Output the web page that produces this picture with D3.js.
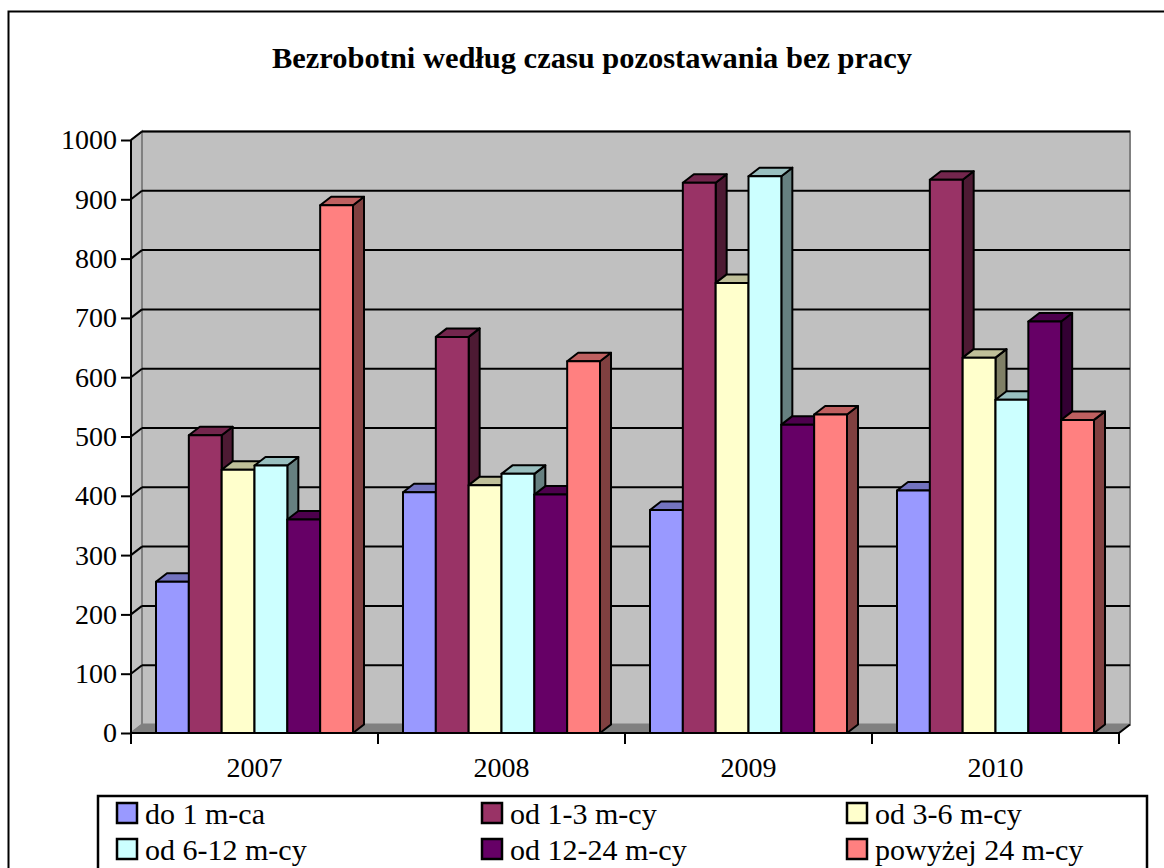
<!DOCTYPE html>
<html>
<head>
<meta charset="utf-8">
<script src="https://cdn.jsdelivr.net/npm/d3@7"></script>
<style>
  html, body { margin: 0; padding: 0; background: #ffffff; }
  svg { display: block; }
  text { font-family: "Liberation Serif", "Times New Roman", serif; }
</style>
</head>
<body>
<script>
// ---- data ----
const title = "Bezrobotni według czasu pozostawania bez pracy";
const years = ["2007", "2008", "2009", "2010"];
const seriesNames = ["do 1 m-ca", "od 1-3 m-cy", "od 3-6 m-cy", "od 6-12 m-cy", "od 12-24 m-cy", "powyżej 24 m-cy"];
const do1 = [255, 406, 376, 409];
const od13 = [502, 668, 928, 933];
const od36 = [444, 418, 759, 633];
const od612 = [451, 437, 939, 562];
const od1224 = [360, 402, 520, 694];
const pow24 = [890, 627, 537, 528];
const seriesValues = [do1, od13, od36, od612, od1224, pow24];
const yTicks = [0, 100, 200, 300, 400, 500, 600, 700, 800, 900, 1000];
const colors = ["#9999FF", "#993366", "#FFFFCC", "#CCFFFF", "#660066", "#FF8080"];

// ---- layout ----
const W = 1164, H = 868;
const svg = d3.select("body").append("svg").attr("width", W).attr("height", H);

// outer border
svg.append("rect").attr("x", 8.5).attr("y", 11.5).attr("width", 1200).attr("height", 1000)
  .attr("fill", "#fff").attr("stroke", "#000").attr("stroke-width", 2);

// title
svg.append("text").attr("x", 592).attr("y", 68).attr("text-anchor", "middle")
  .attr("font-size", 30).attr("font-weight", "bold")
  .attr("textLength", 640).attr("lengthAdjust", "spacingAndGlyphs")
  .text(title);

const X0 = 131, X1 = 1119, Y0 = 733, Y1 = 140;
const DX = 11, DY = -8.5;

const y = d3.scaleLinear().domain([0, 1000]).range([Y0, Y1]);
const x0 = d3.scaleBand().domain(years).range([X0, X1]).padding(0);
const x1 = d3.scaleBand().domain(seriesNames).range([25, 222]).padding(0);

// walls
const g = svg.append("g");
g.append("polygon")
  .attr("points", [[X0 + DX, Y0 + DY], [X1 + DX, Y0 + DY], [X1 + DX, Y1 + DY], [X0 + DX, Y1 + DY]].join(" "))
  .attr("fill", "#C0C0C0").attr("stroke", "#808080").attr("stroke-width", 2);
g.append("polygon")
  .attr("points", [[X0, Y0], [X0 + DX, Y0 + DY], [X0 + DX, Y1 + DY], [X0, Y1]].join(" "))
  .attr("fill", "#C0C0C0").attr("stroke", "#808080").attr("stroke-width", 2);
// floor
g.append("polygon")
  .attr("points", [[X0, Y0], [X1, Y0], [X1 + DX, Y0 + DY], [X0 + DX, Y0 + DY]].join(" "))
  .attr("fill", "#808080").attr("stroke", "#808080").attr("stroke-width", 1);

// gridlines
yTicks.filter(t => t > 0).forEach(t => {
  g.append("line").attr("x1", X0 + DX).attr("x2", X1 + DX)
    .attr("y1", y(t) + DY).attr("y2", y(t) + DY)
    .attr("stroke", "#000").attr("stroke-width", 2);
  g.append("line").attr("x1", X0).attr("x2", X0 + DX)
    .attr("y1", y(t)).attr("y2", y(t) + DY)
    .attr("stroke", "#000").attr("stroke-width", 2);
});

// bars
function shade(c, k) {
  const r = d3.rgb(c);
  return d3.rgb(r.r * k, r.g * k, r.b * k).formatHex();
}
const bars = svg.append("g");
years.forEach((yr, i) => {
  seriesNames.forEach((s, j) => {
    const v = seriesValues[j][i];
    const xl = x0(yr) + x1(s), w = x1.bandwidth();
    const yt = y(v), yb = y(0);
    const bg = bars.append("g").attr("stroke", "#000").attr("stroke-width", 2).attr("stroke-linejoin", "round");
    bg.append("polygon")
      .attr("points", [[xl + w, yt], [xl + w + DX, yt + DY], [xl + w + DX, yb + DY], [xl + w, yb]].join(" "))
      .attr("fill", shade(colors[j], 0.5));
    bg.append("polygon")
      .attr("points", [[xl, yt], [xl + DX, yt + DY], [xl + w + DX, yt + DY], [xl + w, yt]].join(" "))
      .attr("fill", shade(colors[j], 0.75));
    bg.append("rect").attr("x", xl).attr("y", yt).attr("width", w).attr("height", yb - yt)
      .attr("fill", colors[j]);
  });
});

// axes
const yAxis = svg.append("g").attr("transform", `translate(${X0},0)`)
  .call(d3.axisLeft(y).tickValues(yTicks).tickSize(10).tickPadding(4).tickFormat(d3.format("d")));
yAxis.select(".domain").attr("stroke", "#000").attr("stroke-width", 2).attr("d", `M0,${Y0}V${Y1}`);
yAxis.selectAll(".tick line").attr("stroke", "#000").attr("stroke-width", 2);
yAxis.selectAll(".tick text").attr("font-size", 28).attr("font-family", "Liberation Serif").attr("fill", "#000");

const xAxis = svg.append("g").attr("transform", `translate(0,${Y0})`)
  .call(d3.axisBottom(x0).tickSize(0).tickPadding(24));
xAxis.select(".domain").attr("stroke", "#000").attr("stroke-width", 2).attr("d", `M${X0},0H${X1}`);
xAxis.selectAll(".tick text").attr("font-size", 28).attr("font-family", "Liberation Serif").attr("fill", "#000");
// category boundary ticks
const bounds = years.map(d => x0(d)).concat([X1]);
xAxis.selectAll(".bt").data(bounds).enter().append("line")
  .attr("x1", d => d).attr("x2", d => d).attr("y1", 0).attr("y2", 11)
  .attr("stroke", "#000").attr("stroke-width", 2);
xAxis.append("line").attr("x1", X1).attr("y1", 0).attr("x2", X1 + DX).attr("y2", DY)
  .attr("stroke", "#000").attr("stroke-width", 2);

// legend
const lg = svg.append("g");
lg.append("rect").attr("x", 98).attr("y", 796).attr("width", 1049).attr("height", 120)
  .attr("fill", "#fff").attr("stroke", "#000").attr("stroke-width", 2.5);
const colX = [117, 482, 847];
const rowY = [803, 839];
seriesNames.forEach((s, j) => {
  const cx = colX[j % 3], ry = rowY[Math.floor(j / 3)];
  lg.append("rect").attr("x", cx).attr("y", ry).attr("width", 20).attr("height", 20)
    .attr("fill", colors[j]).attr("stroke", "#000").attr("stroke-width", 2.5);
  lg.append("text").attr("x", cx + 28).attr("y", ry + 21).attr("font-size", 30)
    .attr("fill", "#000").text(s);
});
</script>
</body>
</html>
